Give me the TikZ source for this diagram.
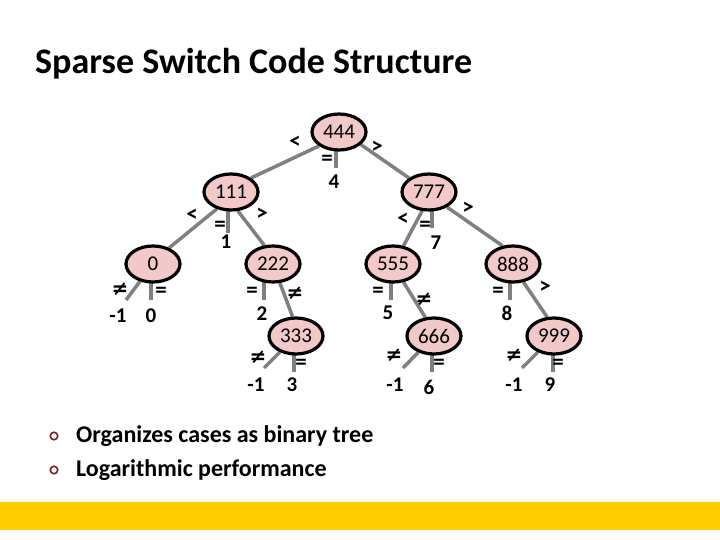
\documentclass[tikz,border=0pt]{standalone}
\usepackage{fontspec}
\setmainfont{Carlito}
\newfontfamily\symfont{DejaVu Sans}
\usetikzlibrary{shapes.geometric}
\pgfdeclarelayer{back}
\pgfdeclarelayer{edges}
\pgfsetlayers{back,edges,main}
\definecolor{nodefill}{RGB}{242,200,200}
\definecolor{edgegray}{RGB}{128,128,128}
\definecolor{barcol}{RGB}{255,204,0}
\definecolor{bulletred}{RGB}{123,30,30}
\newcommand{\neqsym}{{\symfont\bfseries\fontsize{20}{22}\selectfont ≠}}
\begin{document}
\begin{tikzpicture}[x=1pt,y=-1pt,
  casenode/.style={ellipse,draw=black,line width=3.2pt,fill=nodefill,minimum width=54pt,minimum height=36pt,inner sep=0pt,font=\fontsize{21}{24}\selectfont},
  edge/.style={draw=edgegray,line width=3.5pt},
  op/.style={font=\bfseries\fontsize{23}{26}\selectfont,inner sep=0pt},
  leaf/.style={font=\bfseries\fontsize{21}{24}\selectfont,inner sep=0pt},
  bul/.style={circle,draw=bulletred,line width=1.6pt,minimum size=7.5pt,inner sep=0pt},
  btext/.style={font=\bfseries\fontsize{24}{28}\selectfont,anchor=west,inner sep=0pt}]
\useasboundingbox (0,0) rectangle (720,540);
\begin{pgfonlayer}{back}
\fill[white] (0,0) rectangle (720,540);
\fill[barcol] (0,502) rectangle (720,530);
\end{pgfonlayer}
\node[anchor=base west,inner sep=0pt,font=\bfseries\fontsize{36}{40}\selectfont] (title) at (35,74) {Sparse Switch Code Structure};

% case nodes
\node[casenode] (n444) at (339,132) {444};
\node[casenode] (n111) at (231,192) {111};
\node[casenode] (n777) at (429,192) {777};
\node[casenode] (n0) at (153,264) {0};
\node[casenode] (n222) at (273,264) {222};
\node[casenode] (n555) at (393,264) {555};
\node[casenode] (n888) at (513,264) {888};
\node[casenode] (n333) at (296,336) {333};
\node[casenode] (n666) at (434,336) {666};
\node[casenode] (n999) at (554,336) {999};

% leaf values
\node[leaf] (v4) at (334,182) {4};
\node[leaf] (v1) at (226,242) {1};
\node[leaf] (v7) at (436,243) {7};
\node[leaf] (vm1a) at (118,316) {-1};
\node[leaf] (v0) at (151,316) {0};
\node[leaf] (v2) at (262,314) {2};
\node[leaf] (v5) at (388,313) {5};
\node[leaf] (v8) at (507,313) {8};
\node[leaf] (vm1b) at (256,385) {-1};
\node[leaf] (v3) at (292,385) {3};
\node[leaf] (vm1c) at (395,385) {-1};
\node[leaf] (v6) at (429,387) {6};
\node[leaf] (vm1d) at (514,385) {-1};
\node[leaf] (v9) at (550,385) {9};

% stub ends
\coordinate (s4) at (336,168);
\coordinate (s1) at (228,233);
\coordinate (s7) at (432,228);
\coordinate (t0) at (126,300);
\coordinate (s0) at (151,300);
\coordinate (s2) at (264,300);
\coordinate (s5) at (391,300);
\coordinate (s8) at (510,300);
\coordinate (t333) at (264,368);
\coordinate (s3) at (294,372);
\coordinate (t666) at (403,368);
\coordinate (s6) at (432,372);
\coordinate (t999) at (522,368);
\coordinate (s9) at (553,372);

\begin{pgfonlayer}{edges}
\path[edge] (n444.215) -- (n111.35);
\path[edge] (n444.330) -- (n777.145);
\path[edge] (n111.230) -- (n0.45);
\path[edge] (n111.290) -- (n222.115);
\path[edge] (n222.290) -- (n333.100);
\path[edge] (n777.250) -- (n555.60);
\path[edge] (n777.320) -- (n888.120);
\path[edge] (n555.300) -- (n666.115);
\path[edge] (n888.300) -- (n999.110);
\path[edge] (s4 |- n444.center) -- (s4);
\path[edge] (s1 |- n111.center) -- (s1);
\path[edge] (s7 |- n777.center) -- (s7);
\path[edge] (n0) -- (t0);
\path[edge] (s0 |- n0.center) -- (s0);
\path[edge] (s2 |- n222.center) -- (s2);
\path[edge] (s5 |- n555.center) -- (s5);
\path[edge] (s8 |- n888.center) -- (s8);
\path[edge] (n333) -- (t333);
\path[edge] (s3 |- n333.center) -- (s3);
\path[edge] (n666) -- (t666);
\path[edge] (s6 |- n666.center) -- (s6);
\path[edge] (n999) -- (t999);
\path[edge] (s9 |- n999.center) -- (s9);
\end{pgfonlayer}

% operator labels
\node[op] (o1) at (295,142) {<};
\node[op] (o2) at (377,147) {>};
\node[op] (o3) at (327,160) {=};
\node[op] (o4) at (192,215) {<};
\node[op] (o5) at (262,214) {>};
\node[op] (o6) at (220,226) {=};
\node[op] (o7) at (403,219) {<};
\node[op] (o8) at (425,226) {=};
\node[op] (o9) at (468,208) {>};
\node[op] (o10) at (120,289) {\neqsym};
\node[op] (o11) at (161,292) {=};
\node[op] (o12) at (252,292) {=};
\node[op] (o13) at (295,293) {\neqsym};
\node[op] (o14) at (378,292) {=};
\node[op] (o15) at (424,299) {\neqsym};
\node[op] (o16) at (498,292) {=};
\node[op] (o17) at (545,287) {>};
\node[op] (o18) at (258,357) {\neqsym};
\node[op] (o19) at (301,364) {=};
\node[op] (o20) at (394,355) {\neqsym};
\node[op] (o21) at (439,364) {=};
\node[op] (o22) at (514,355) {\neqsym};
\node[op] (o23) at (558,364) {=};

% bullets
\node[bul] (b1) at (54,436) {};
\node[bul] (b2) at (54,470) {};
\node[btext] (t1) at (76,436) {Organizes cases as binary tree};
\node[btext] (t2) at (76,470) {Logarithmic performance};
\end{tikzpicture}
\end{document}
